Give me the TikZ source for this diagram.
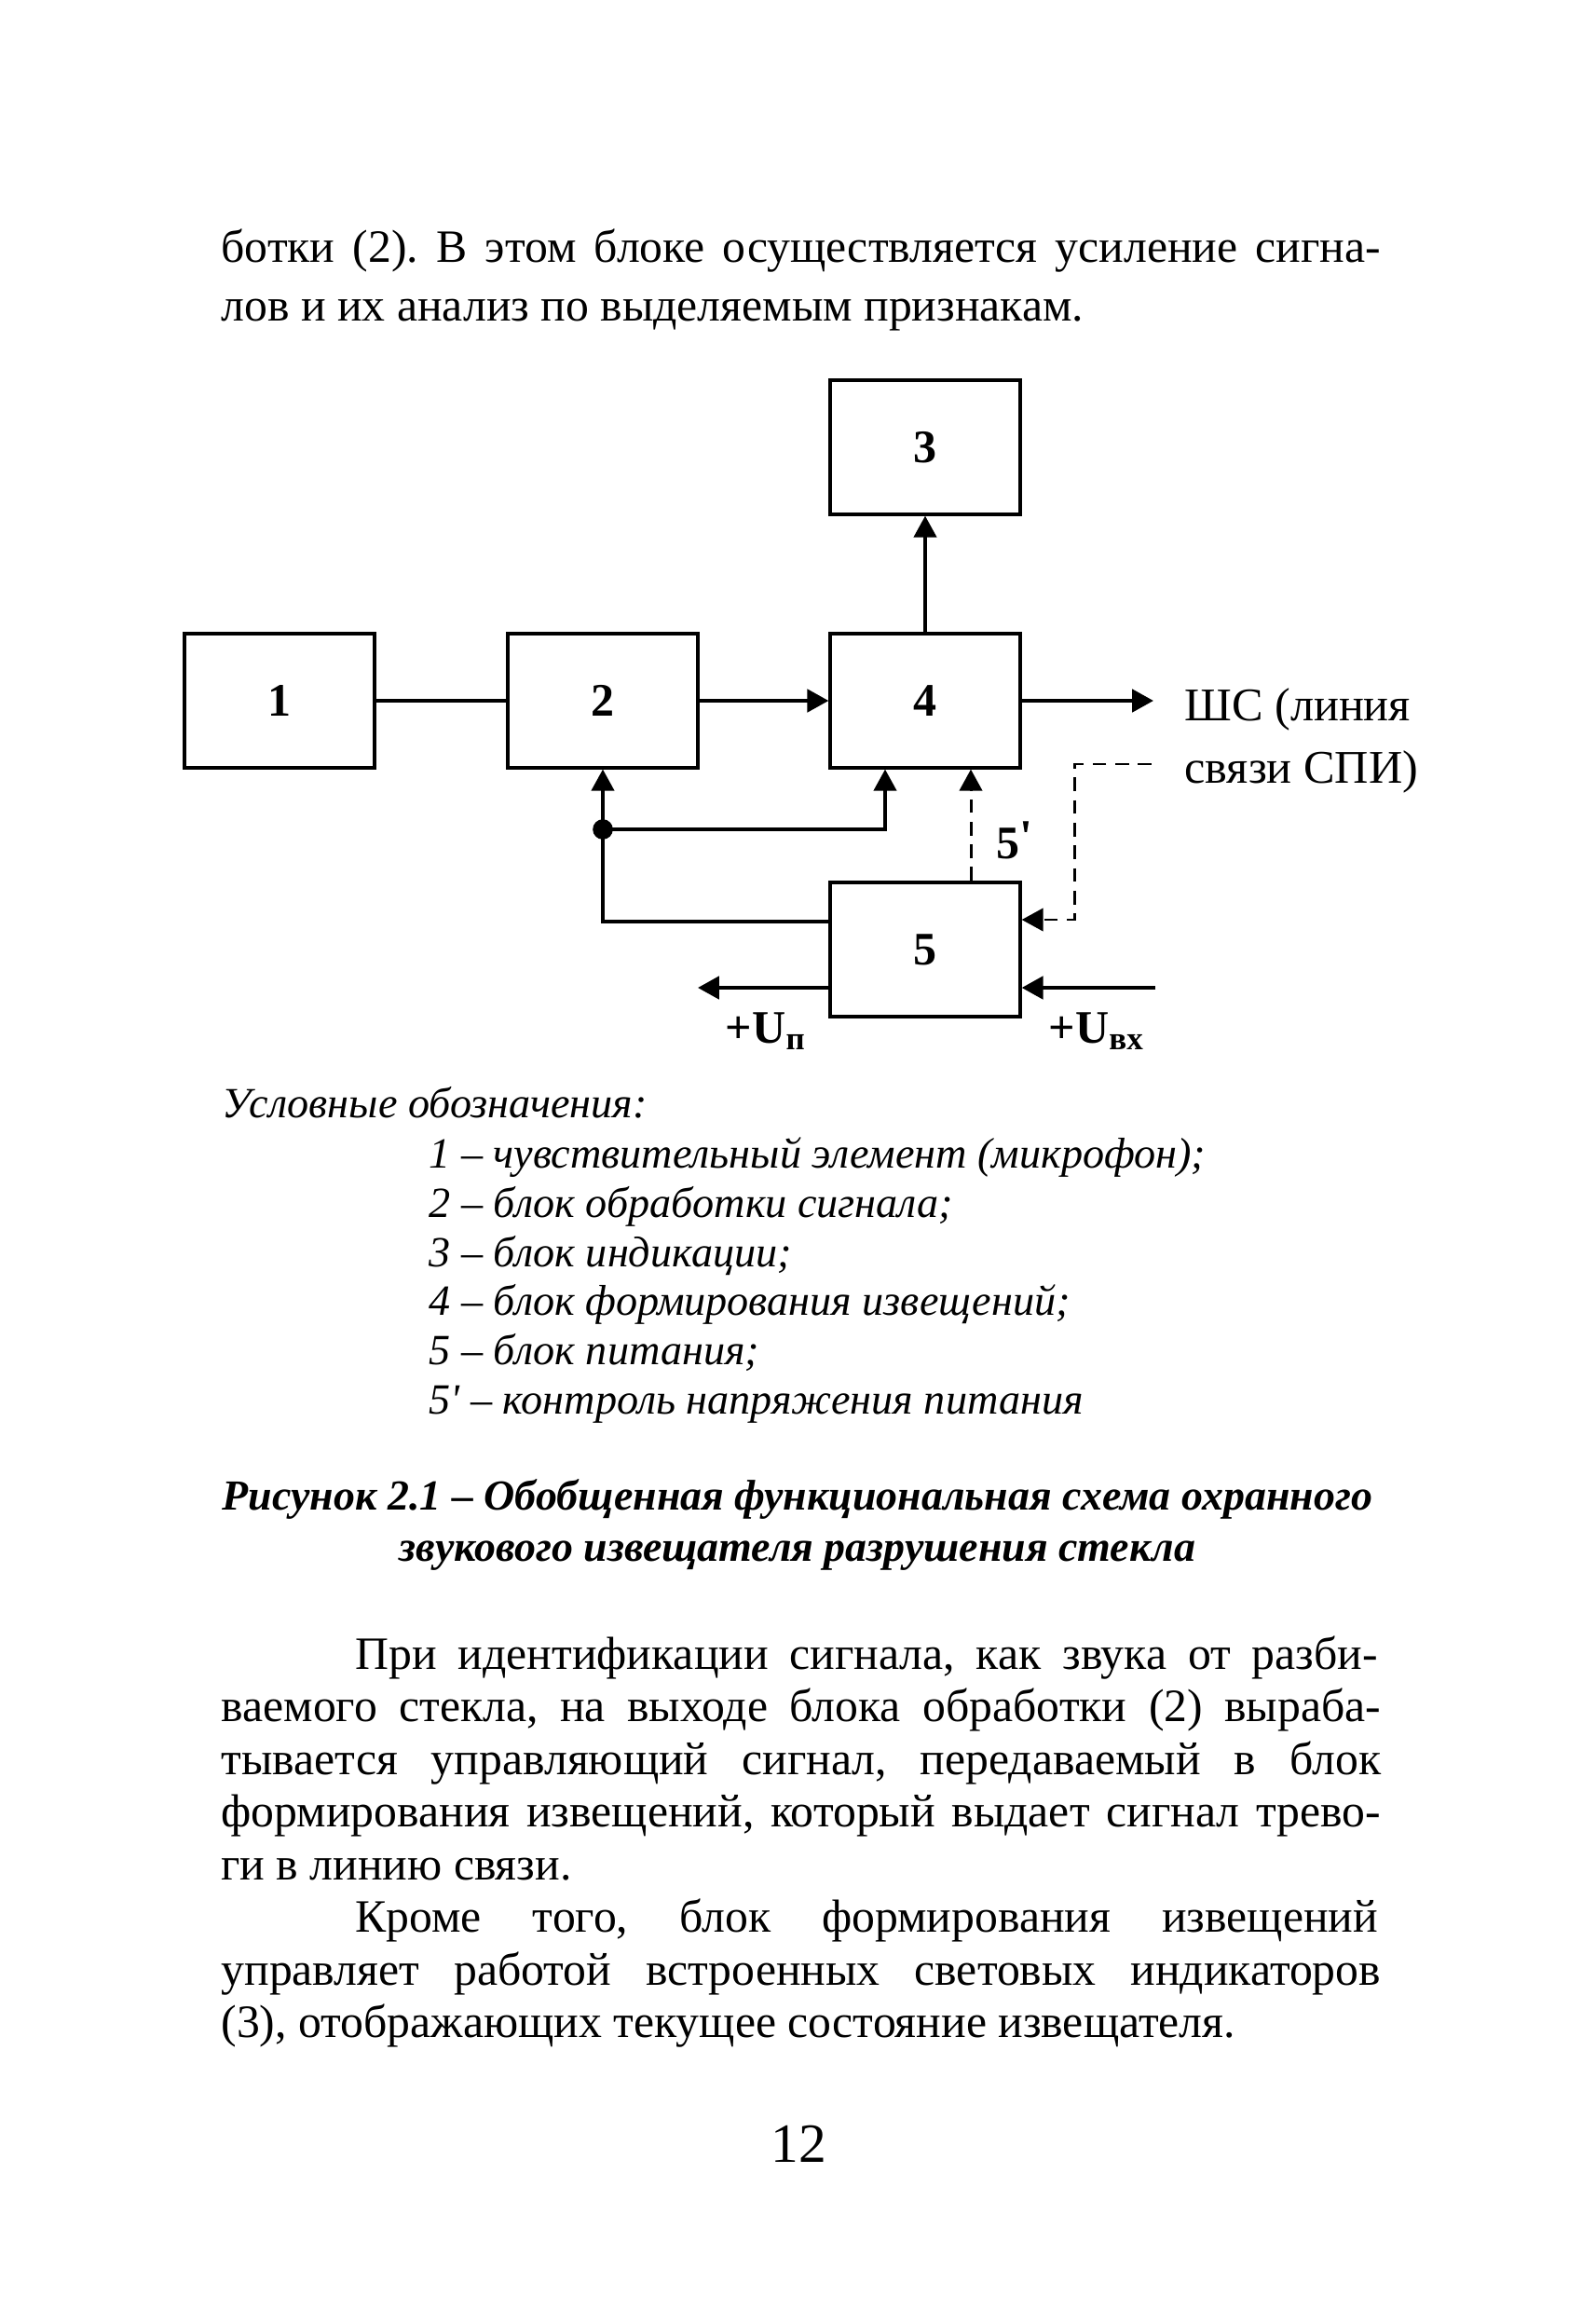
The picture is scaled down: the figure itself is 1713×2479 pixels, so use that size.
\documentclass[tikz,border=0pt]{standalone}
\usepackage{fontspec}
\setmainfont{Liberation Serif}
\usetikzlibrary{arrows.meta}
\frenchspacing
\newcommand{\tw}{460.5pt}
\newcommand{\tind}{406pt}
\tikzset{
  blk/.style={draw, line width=1.2pt, minimum width=75.5pt, minimum height=53.3pt, font=\fontsize{18.5}{21}\selectfont\bfseries},
  wire/.style={line width=1.2pt},
  sig/.style={line width=1.2pt, -{Triangle[length=8.5pt,width=9pt]}},
  ctl/.style={line width=1.1pt, dash pattern=on 5.5pt off 3.5pt, -{Triangle[length=8.5pt,width=9pt]}},
  txt/.style={anchor=base west, inner sep=0pt},
  leg/.style={anchor=base west, inner sep=0pt, font=\fontsize{17.1}{20}\selectfont\itshape},
  figcap/.style={anchor=base, inner sep=0pt, font=\fontsize{17}{20}\selectfont\bfseries\itshape},
  lbl/.style={font=\fontsize{18.5}{21}\selectfont\bfseries},
}
\begin{document}
\begin{tikzpicture}[x=0.37pt, y=-0.37pt, font=\fontsize{18.4}{21}\selectfont]
    \useasboundingbox[fill=white] (0,0) rectangle (1713,2479);
    % text above the figure
    \node[txt] (p1a) at (237,281) {\makebox[\tw][s]{ботки (2). В этом блоке осуществляется усиление сигна-}};
    \node[txt] (p1b) at (237,344) {лов и их анализ по выделяемым признакам.};
    % blocks
    \node[blk] (b1) at (300,752) {1};
    \node[blk] (b2) at (647,752) {2};
    \node[blk] (b4) at (993,752) {4};
    \node[blk] (b3) at (993,480) {3};
    \node[blk] (b5) at (993,1019) {5};
    \coordinate (shs) at (1238,752);
    \coordinate (spi) at (1236,820);
    \coordinate (uout) at (749,1060);
    \coordinate (uin) at (1240,1060);
    \node[circle, fill, inner sep=0pt, minimum size=8pt] (jn) at (b2 |- 0,890) {};
    \draw[wire] (b1) -- (b2);
    \draw[sig, line width=1.5pt] (b2) -- (b4);
    \draw[sig, line width=1.5pt] (b4) -- (shs);
    \draw[sig] (b4) -- (b3);
    \draw[wire] (b5.west |- 0,989) -| (jn.center);
    \draw[sig] (jn.center) -- (b2.south);
    \draw[sig] (jn.center) -| (b4.south -| 950,0);
    \draw[ctl] (b5.north -| 1042,0) -- (b4.south -| 1042,0);
    \draw[ctl] (spi) -| (1153,987) -- (b5.east |- 0,987);
    \draw[sig, line width=1.5pt] (b5.west |- 0,1060) -- (uout);
    \draw[sig, line width=1.5pt] (uin) -- (b5.east |- 0,1060);
    \node[txt, font=\fontsize{18.6}{21}\selectfont] (shs1) at (1271,773) {ШС (линия};
    \node[txt, font=\fontsize{18.6}{21}\selectfont] (shs2) at (1271,840) {связи СПИ)};
    \node[lbl] (l5) at (1089,902) {5\raisebox{.3ex}{\textquotesingle}};
    \node[lbl] (lup) at (822,1107) {+U\textsubscript{п}};
    \node[lbl] (luin) at (1177,1107) {+U\textsubscript{вх}};
    % legend
    \node[leg] (lg0) at (238,1199) {Условные обозначения:};
    \node[leg] (lg1) at (460,1253) {1 – чувствительный элемент (микрофон);};
    \node[leg] (lg2) at (460,1306) {2 – блок обработки сигнала;};
    \node[leg] (lg3) at (460,1359) {3 – блок индикации;};
    \node[leg] (lg4) at (460,1411) {4 – блок формирования извещений;};
    \node[leg] (lg5) at (460,1464) {5 – блок питания;};
    \node[leg] (lg6) at (460,1517) {5\textquotesingle\ – контроль напряжения питания};
    % caption
    \node[figcap] (cap1) at (856,1620) {Рисунок 2.1 – Обобщенная функциональная схема охранного};
    \node[figcap] (cap2) at (856,1675) {звукового извещателя разрушения стекла};
    % text below the figure
    \node[txt] (p2a) at (381,1791) {\makebox[\tind][s]{При идентификации сигнала, как звука от разби-}};
    \node[txt] (p2b) at (237,1847.5) {\makebox[\tw][s]{ваемого стекла, на выходе блока обработки (2) выраба-}};
    \node[txt] (p2c) at (237,1904) {\makebox[\tw][s]{тывается управляющий сигнал, передаваемый в блок}};
    \node[txt] (p2d) at (237,1960.5) {\makebox[\tw][s]{формирования извещений, который выдает сигнал трево-}};
    \node[txt] (p2e) at (237,2017) {ги в линию связи.};
    \node[txt] (p3a) at (381,2073.5) {\makebox[\tind][s]{Кроме того, блок формирования извещений}};
    \node[txt] (p3b) at (237,2130) {\makebox[\tw][s]{управляет работой встроенных световых индикаторов}};
    \node[txt] (p3c) at (237,2186.5) {(3), отображающих текущее состояние извещателя.};
    \node[anchor=base, inner sep=0pt, font=\fontsize{22}{26}\selectfont] (pg) at (857,2320) {12};
\end{tikzpicture}
\end{document}
